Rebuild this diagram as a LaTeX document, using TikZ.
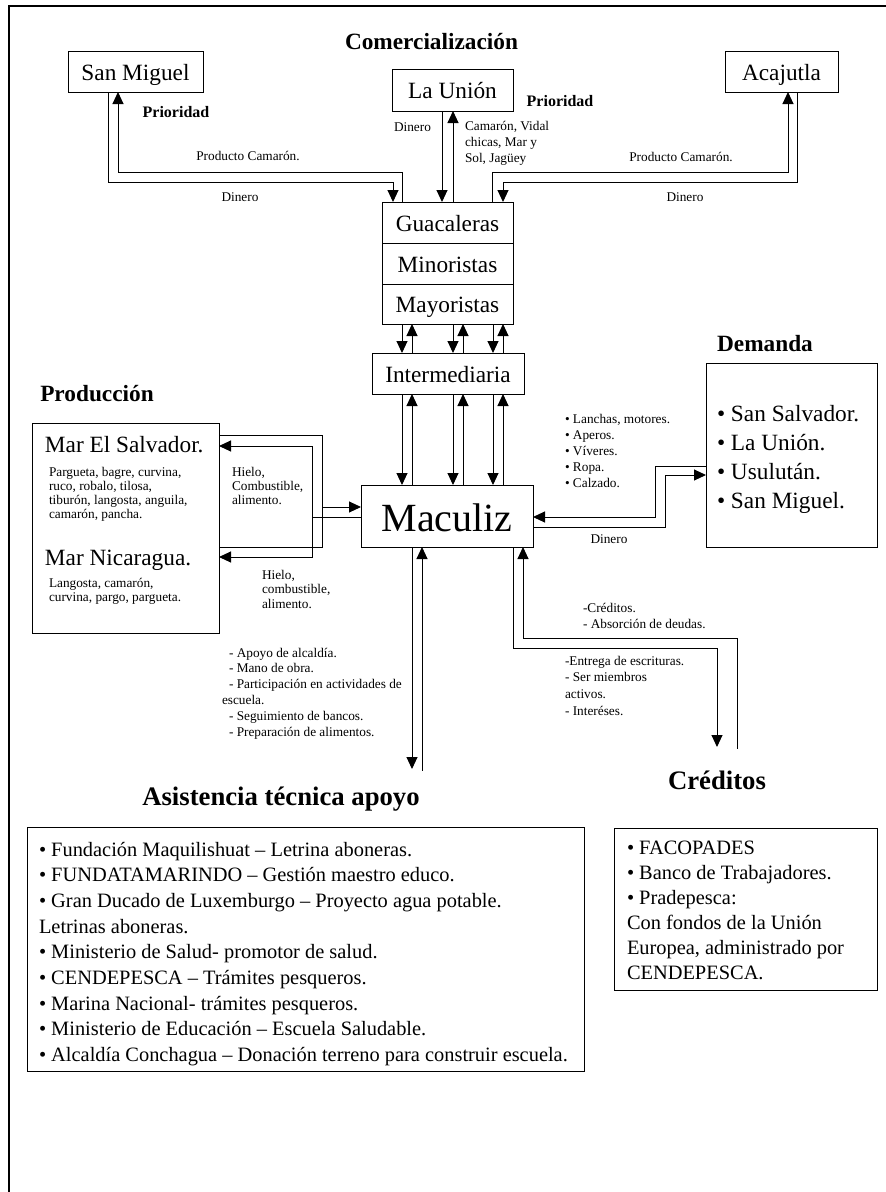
\documentclass[tikz,border=0pt]{standalone}
\usepackage{fontspec}
\setmainfont{Liberation Serif}
\usetikzlibrary{arrows.meta}
\newcommand\mylines[1]{\begin{tabular}[t]{@{}l@{}}#1\end{tabular}}
\begin{document}
\begin{tikzpicture}[x=1pt,y=-1pt,
  every node/.style={inner sep=0pt,outer sep=0pt},
  ln/.style={line width=1pt},
  box/.style={draw,line width=1pt,anchor=north west,font=\fontsize{23.3}{27}\selectfont,text height=17pt,text depth=0pt},
  arr/.style={line width=1pt,-{Triangle[length=12pt,width=11pt]}},
  arrl/.style={line width=1pt,{Triangle[length=12pt,width=11pt]}-},
  arrb/.style={line width=1pt,{Triangle[length=12pt,width=11pt]}-{Triangle[length=12pt,width=11pt]}},
  head/.style={anchor=base,font=\fontsize{23.3}{27}\selectfont\bfseries},
  bighead/.style={anchor=base,font=\fontsize{26.7}{31}\selectfont\bfseries},
  prio/.style={anchor=base,font=\fontsize{16}{19}\selectfont\bfseries},
  lbl/.style={anchor=base west,font=\fontsize{13.3}{16}\selectfont},
  lblc/.style={anchor=base,font=\fontsize{13.3}{16}\selectfont},
  lbl14/.style={anchor=base west,font=\fontsize{13.3}{14}\selectfont},
  lblist/.style={anchor=base west,font=\fontsize{20.4}{25.7}\selectfont}
]
\useasboundingbox (0,0) rectangle (886,1192);
% outer frame
\draw[line width=2pt] (9,1192) -- (9,6) -- (886,6);

% headings
\node[head] (comh) at (431.5,49) {Comercialización};
\node[head] (prodh) at (97,401) {Producción};
\node[head] (demh) at (765,351) {Demanda};
\node[bighead] (asish) at (281,805) {Asistencia técnica apoyo};
\node[bighead] (credh) at (717,789) {Créditos};

% top boxes
\node[box,minimum width=135pt,minimum height=41pt] (sm) at (68,51) {San Miguel};
\node[box,minimum width=121pt,minimum height=42pt] (lu) at (392,69) {La Unión};
\node[box,minimum width=113pt,minimum height=41pt] (aca) at (725,51) {Acajutla};

% stacked boxes
\node[box,minimum width=131pt,minimum height=41pt] (gua) at (382,202) {Guacaleras};
\node[box,minimum width=131pt,minimum height=41pt] (min) at (382,243) {Minoristas};
\node[box,minimum width=131pt,minimum height=40pt] (may) at (382,284) {Mayoristas};
\node[box,minimum width=152pt,minimum height=41pt] (inter) at (372,353) {Intermediaria};
\node[box,minimum width=172pt,minimum height=62pt,font=\fontsize{40}{46}\selectfont,text height=30pt] (mac) at (361,485) {Maculiz};

% priority labels
\node[prio] (p1) at (176,117) {Prioridad};
\node[prio] (p2) at (560,106) {Prioridad};

% San Miguel connectors
\draw[arr] ([xshift=-27.5pt]sm.south) -- ++(0,90) -| ([xshift=11pt]gua.north west);
\draw[arr] ([xshift=20pt]gua.north west) -- ++(0,-30) -| ([xshift=-17.5pt]sm.south);
\node[lblc] (l1) at (248,160) {Producto Camarón.};
\node[lblc] (l2) at (240,201) {Dinero};

% La Union connectors
\draw[arr] ([xshift=-10.5pt]lu.south) -- ([xshift=-5.5pt]gua.north);
\draw[arr] ([xshift=5.5pt]gua.north) -- ([xshift=0.5pt]lu.south);
\node[lblc] (l3) at (412.5,131) {Dinero};
\node[lbl] (l4) at (465,130) {\mylines{Camarón, Vidal\\chicas, Mar y\\Sol, Jagüey}};

% Acajutla connectors
\draw[arr] ([xshift=110pt]gua.north west) -- ++(0,-30) -| ([xshift=6.5pt]aca.south);
\draw[arr] ([xshift=15.5pt]aca.south) -- ++(0,90) -| ([xshift=121pt]gua.north west);
\node[lblc] (l5) at (681,161) {Producto Camarón.};
\node[lblc] (l6) at (685,201) {Dinero};

% Mayoristas <-> Intermediaria <-> Maculiz
\foreach \d in {20,71,111}{
  \draw[arr] ([xshift={\d*1pt}]may.south west) -- ([xshift={(\d+10)*1pt}]inter.north west);
  \draw[arr] ([xshift={(\d+20)*1pt}]inter.north west) -- ([xshift={(\d+10)*1pt}]may.south west);
  \draw[arr] ([xshift={(\d+10)*1pt}]inter.south west) -- ([xshift={(\d+21)*1pt}]mac.north west);
  \draw[arr] ([xshift={(\d+31)*1pt}]mac.north west) -- ([xshift={(\d+20)*1pt}]inter.south west);
}

% Produccion box
\node[draw,ln,anchor=north west,minimum width=187pt,minimum height=210pt] (prod) at (32,423) {};
\node[anchor=base west,font=\fontsize{23.3}{27}\selectfont] (mes) at (45,452) {Mar El Salvador.};
\node[lbl14] (mesl) at (49,476) {\mylines{Pargueta, bagre, curvina,\\ruco, robalo, tilosa,\\tiburón, langosta, anguila,\\camarón, pancha.}};
\node[anchor=base west,font=\fontsize{23.3}{27}\selectfont] (mni) at (45,565) {Mar Nicaragua.};
\node[lbl14] (mnil) at (49,587) {\mylines{Langosta, camarón,\\curvina, pargo, pargueta.}};

% Produccion <-> Maculiz
\coordinate (po) at (322,507);
\coordinate (pi) at (312,517);
\draw[ln] ([yshift=-12pt]prod.north east) -- ++(103,0) -- ++(0,112) -- ([yshift=86pt]prod.south east);
\draw[arr] (po) -- (mac.west |- po);
\draw[arrb] ([yshift=-23pt]prod.north east) -- ++(93,0) -- ++(0,111) -- ([yshift=76pt]prod.south east);
\draw[ln] (pi) -- (mac.west |- pi);
\node[lbl14] (h1) at (232,476) {\mylines{Hielo,\\Combustible,\\alimento.}};
\node[anchor=base west,font=\fontsize{13.3}{14.5}\selectfont] (h2) at (262,579) {\mylines{Hielo,\\combustible,\\alimento.}};

% Demanda box
\node[draw,ln,anchor=north west,minimum width=171pt,minimum height=184pt] (dem) at (706,363) {};
\node[anchor=base west,font=\fontsize{23.3}{29}\selectfont] (deml) at (717,421) {\mylines{• San Salvador.\\• La Unión.\\• Usulután.\\• San Miguel.}};
\draw[arr] ([yshift=-11pt]dem.west) -- ++(-51,0) -- ++(0,51) -- ([yshift=-1pt]mac.east);
\draw[arr] ([yshift=-11pt]mac.east) -- ++(132,0) -- ++(0,-52) -- ([yshift=-20pt]dem.west);
\node[lbl] (lan) at (565,423) {\mylines{• Lanchas, motores.\\• Aperos.\\• Víveres.\\• Ropa.\\• Calzado.}};
\node[lblc] (l7) at (609,543) {Dinero};

% Maculiz -> Asistencia
\draw[arr] ([xshift=-35pt]mac.south) -- ++(0,222);
\draw[arrl] ([xshift=-25pt]mac.south) -- ++(0,224);
\node[anchor=base west,font=\fontsize{13.3}{15.8}\selectfont] (asl) at (229,657) {\mylines{- Apoyo de alcaldía.\\- Mano de obra.\\- Participación en actividades de\\\hspace*{-7pt}escuela.\\- Seguimiento de bancos.\\- Preparación de alimentos.}};

% Maculiz <-> Creditos
\draw[arr] ([xshift=66pt]mac.south) -- ++(0,101) -- ++(204,0) -- ++(0,99);
\draw[arrl] ([xshift=76pt]mac.south) -- ++(0,91) -- ++(214,0) -- ++(0,111);
\node[lbl] (cr1) at (583,612) {\mylines{-Créditos.\\- Absorción de deudas.}};
\node[anchor=base west,font=\fontsize{13.3}{16.7}\selectfont] (cr2) at (565,665) {\mylines{-Entrega de escrituras.\\- Ser miembros\\activos.\\- Interéses.}};

% Asistencia box
\node[draw,ln,anchor=north west,minimum width=557pt,minimum height=244pt] (asis) at (27,827) {};
\node[lblist] (asisl) at (39,856) {\mylines{• Fundación Maquilishuat – Letrina aboneras.\\• FUNDATAMARINDO – Gestión maestro educo.\\• Gran Ducado de Luxemburgo – Proyecto agua potable.\\Letrinas aboneras.\\• Ministerio de Salud- promotor de salud.\\• CENDEPESCA – Trámites pesqueros.\\• Marina Nacional- trámites pesqueros.\\• Ministerio de Educación – Escuela Saludable.\\• Alcaldía Conchagua – Donación terreno para construir escuela.}};

% Creditos box
\node[draw,ln,anchor=north west,minimum width=263pt,minimum height=162pt] (cred) at (614,828) {};
\node[anchor=base west,font=\fontsize{20.4}{25}\selectfont] (credl) at (627,854) {\mylines{• FACOPADES\\• Banco de Trabajadores.\\• Pradepesca:\\Con fondos de la Unión\\Europea, administrado por\\CENDEPESCA.}};
\end{tikzpicture}
\end{document}
